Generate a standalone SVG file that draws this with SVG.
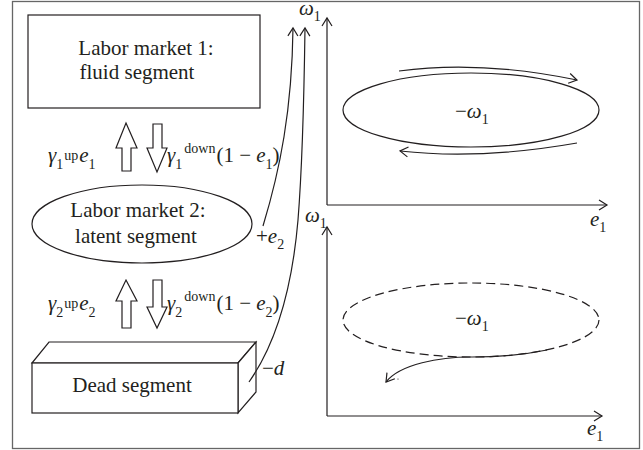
<svg xmlns="http://www.w3.org/2000/svg" width="643" height="450" viewBox="0 0 643 450">
<style>
.ln{fill:none;stroke:#231f20;stroke-width:1.2}
.box{fill:#fff;stroke:#231f20;stroke-width:1.2}
.dash{fill:none;stroke:#231f20;stroke-width:1.2;stroke-dasharray:9 5}
text{font-family:"Liberation Serif","Times New Roman",serif;fill:#231f20;font-size:21px}
.t{text-anchor:middle}
.i{font-style:italic}
.s{font-size:14px}
</style>
<defs>
<marker id="v" markerWidth="12" markerHeight="12" refX="10" refY="6" orient="auto" markerUnits="userSpaceOnUse">
<path d="M2,1 L10,6 L2,11" fill="none" stroke="#231f20" stroke-width="1.2"/>
</marker>
</defs>
<rect x="12.5" y="1.5" width="627" height="447" fill="#fff" stroke="#666" stroke-width="1.3"/>

<g id="market1">
<rect class="box" x="28" y="15" width="232" height="93"/>
<text class="t" x="146" y="55">Labor market 1:</text>
<text class="t" x="137" y="79">fluid segment</text>
</g>

<g id="market2">
<ellipse class="box" cx="142" cy="224" rx="110" ry="39"/>
<text class="t" x="138" y="217">Labor market 2:</text>
<text class="t" x="136" y="243">latent segment</text>
</g>

<g id="dead">
<polygon class="box" points="32,363 49,342 256,342 238,363"/>
<polygon class="box" points="238,363 256,342 256,392 238,413"/>
<rect class="box" x="32" y="363" width="206" height="50"/>
<text class="t" x="132" y="392">Dead segment</text>
</g>

<g id="flow1">
<polygon class="box" points="126,123 137,148 131,148 131,171 122,171 122,148 116,148"/>
<polygon class="box" points="153,124 162,124 162,148 167,148 157,172 147,148 153,148"/>
<text x="48" y="162"><tspan class="i">γ</tspan><tspan class="s" dy="7">1</tspan><tspan class="s" dy="-9" dx="1">up</tspan><tspan class="i" dy="2" dx="1">e</tspan><tspan class="s" dy="7">1</tspan></text>
<text x="167" y="162"><tspan class="i">γ</tspan><tspan class="s" dy="7">1</tspan><tspan class="s" dy="-16" dx="2">down</tspan><tspan dy="9" dx="1">(1 − </tspan><tspan class="i">e</tspan><tspan class="s" dy="7">1</tspan><tspan dy="-7">)</tspan></text>
</g>

<g id="flow2">
<polygon class="box" points="126,280 137,301 131,301 131,328 122,328 122,301 116,301"/>
<polygon class="box" points="153,280 162,280 162,307 167,307 157,328 147,307 153,307"/>
<text x="48" y="310"><tspan class="i">γ</tspan><tspan class="s" dy="7">2</tspan><tspan class="s" dy="-9" dx="1">up</tspan><tspan class="i" dy="2" dx="1">e</tspan><tspan class="s" dy="7">2</tspan></text>
<text x="167" y="310"><tspan class="i">γ</tspan><tspan class="s" dy="7">2</tspan><tspan class="s" dy="-16" dx="2">down</tspan><tspan dy="9" dx="1">(1 − </tspan><tspan class="i">e</tspan><tspan class="s" dy="7">2</tspan><tspan dy="-7">)</tspan></text>
</g>

<g id="connectors">
<path class="ln" d="M263,226 C280,170 292,110 293,28" marker-end="url(#v)"/>
<path class="ln" d="M249,382 C275,345 292,290 298,220 C302,170 304,100 305,28" marker-end="url(#v)"/>
</g>
<text x="256" y="243">+<tspan class="i">e</tspan><tspan class="s" dy="6">2</tspan></text>
<text x="262" y="375">−<tspan class="i">d</tspan></text>

<g id="graph1">
<path class="ln" d="M327,205 V18" marker-end="url(#v)"/>
<path class="ln" d="M327,205 H607" marker-end="url(#v)"/>
<text x="299" y="15"><tspan class="i">ω</tspan><tspan class="s" dy="6">1</tspan></text>
<text x="590" y="226"><tspan class="i">e</tspan><tspan class="s" dy="6">1</tspan></text>
<ellipse class="ln" cx="471" cy="110" rx="128" ry="37"/>
<text x="455" y="118">−<tspan class="i">ω</tspan><tspan class="s" dy="6">1</tspan></text>
<path class="ln" d="M399,71 Q480,60 577,80" marker-end="url(#v)"/>
<path class="ln" d="M577,143 Q480,160 400,151" marker-end="url(#v)"/>
</g>

<g id="graph2">
<path class="ln" d="M327,416 V227" marker-end="url(#v)"/>
<path class="ln" d="M327,416 H602" marker-end="url(#v)"/>
<text x="305" y="222"><tspan class="i">ω</tspan><tspan class="s" dy="6">1</tspan></text>
<text x="587" y="435"><tspan class="i">e</tspan><tspan class="s" dy="6">1</tspan></text>
<ellipse class="dash" cx="471" cy="320" rx="128" ry="37"/>
<text x="455" y="325">−<tspan class="i">ω</tspan><tspan class="s" dy="6">1</tspan></text>
<path class="ln" d="M547,350 A128,37 0 0 1 471,357 C440,357 400,364 386,382" marker-end="url(#v)"/>
<circle cx="398" cy="379" r="0.6" fill="#231f20"/>
</g>
</svg>
